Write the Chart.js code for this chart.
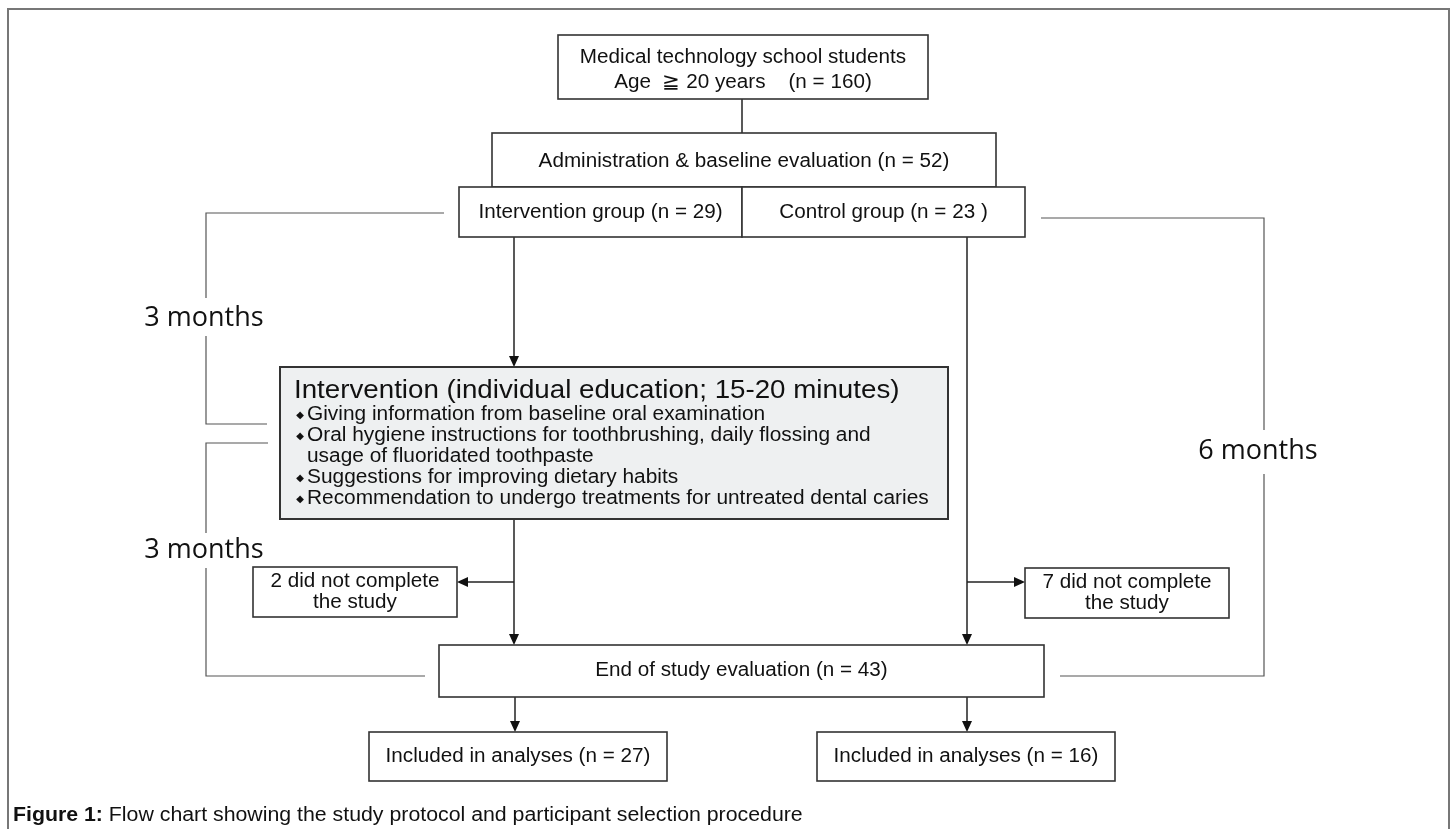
<!DOCTYPE html>
<html>
<head>
<meta charset="utf-8">
<script src="https://cdn.jsdelivr.net/npm/chart.js@4.4.0/dist/chart.umd.min.js"></script>
<style>
  html, body { margin: 0; padding: 0; background: #fff; }
  #flow { display: block; }
</style>
</head>
<body>
<canvas id="flow" width="1453" height="829"></canvas>
<script>
// study numbers
const stageLabels = [
    'Medical technology school students',
    'Administration & baseline evaluation',
    'Intervention group',
    'Control group',
    'did not complete',
    'End of study evaluation',
    'Included in analyses'
];
const nTotal = 160;
const nBaseline = 52;
const nIntervention = 29;
const nControl = 23;
const nDropIntervention = 2;
const nDropControl = 7;
const nEnd = 43;
const nAnalysedIntervention = 27;
const nAnalysedControl = 16;
const durations = ['3 months', '3 months', '6 months'];
const interventionTitle = 'Intervention (individual education; 15-20 minutes)';
const interventionItems = [
    ['Giving information from baseline oral examination'],
    ['Oral hygiene instructions for toothbrushing, daily flossing and', 'usage of fluoridated toothpaste'],
    ['Suggestions for improving dietary habits'],
    ['Recommendation to undergo treatments for untreated dental caries']
];
const caption = ['Figure 1:', ' Flow chart showing the study protocol and participant selection procedure'];

// layout in page units (x right, y down)
const boxes = [
    { r: [558, 35, 928, 99], lines: [stageLabels[0], 'Age  \u2267 20 years    (n = ' + nTotal + ')'], ys: [58, 83] },
    { r: [492, 133, 996, 187], lines: [stageLabels[1] + ' (n = ' + nBaseline + ')'], ys: [162] },
    { r: [459, 187, 742, 237], lines: [stageLabels[2] + ' (n = ' + nIntervention + ')'], ys: [213] },
    { r: [742, 187, 1025, 237], lines: [stageLabels[3] + ' (n = ' + nControl + ' )'], ys: [213] },
    { r: [253, 567, 457, 617], lines: [nDropIntervention + ' ' + stageLabels[4], 'the study'], ys: [582, 603] },
    { r: [1025, 568, 1229, 618], lines: [nDropControl + ' ' + stageLabels[4], 'the study'], ys: [583, 604] },
    { r: [439, 645, 1044, 697], lines: [stageLabels[5] + ' (n = ' + nEnd + ')'], ys: [671] },
    { r: [369, 732, 667, 781], lines: [stageLabels[6] + ' (n = ' + nAnalysedIntervention + ')'], ys: [757] },
    { r: [817, 732, 1115, 781], lines: [stageLabels[6] + ' (n = ' + nAnalysedControl + ')'], ys: [757] }
];
const interventionBox = [280, 367, 948, 519];
const plainLinks = [[[742, 99], [742, 133]]];
const arrows = [
    [[514, 237], [514, 367]],
    [[514, 519], [514, 645]],
    [[514, 582], [457, 582]],
    [[967, 237], [967, 645]],
    [[967, 582], [1025, 582]],
    [[515, 697], [515, 732]],
    [[967, 697], [967, 732]]
];
const brackets = [
    { parts: [[[444, 213], [206, 213], [206, 298]], [[206, 336], [206, 424], [267, 424]]], label: [204, 318] },
    { parts: [[[268, 443], [206, 443], [206, 533]], [[206, 568], [206, 676], [425, 676]]], label: [204, 550] },
    { parts: [[[1041, 218], [1264, 218], [1264, 430]], [[1264, 474], [1264, 676], [1060, 676]]], label: [1258, 451] }
];

const SANS = '"Liberation Sans", Arial, sans-serif';

// text drawn a little wider than plain Arial, like the original figure
function wideText(ctx, text, x, y, font, stretch, align) {
    ctx.save();
    ctx.font = font;
    ctx.textAlign = 'left';
    const w = ctx.measureText(text).width * stretch;
    let left = x;
    if (align === 'center') left = x - w / 2;
    ctx.translate(left, y);
    ctx.scale(stretch, 1);
    ctx.fillText(text, 0, 0);
    ctx.restore();
    return w;
}

const flowPlugin = {
    id: 'flow',
    afterDraw(chart) {
        const ctx = chart.ctx;
        const sx = chart.scales.x, sy = chart.scales.y;
        const px = v => sx.getPixelForValue(v);
        const py = v => sy.getPixelForValue(v);
        const poly = pts => {
            ctx.beginPath();
            pts.forEach((p, i) => i ? ctx.lineTo(px(p[0]), py(p[1])) : ctx.moveTo(px(p[0]), py(p[1])));
            ctx.stroke();
        };
        ctx.save();
        ctx.textBaseline = 'middle';

        // outer frame
        ctx.strokeStyle = '#777';
        ctx.lineWidth = 2;
        ctx.strokeRect(px(8), py(9), px(1449) - px(8), py(840) - py(9));

        // brackets
        ctx.strokeStyle = '#555';
        ctx.lineWidth = 1.2;
        brackets.forEach(b => b.parts.forEach(poly));
        ctx.fillStyle = '#111';
        ctx.font = '27px "Open Sans"';
        ctx.textAlign = 'center';
        brackets.forEach((b, i) => ctx.fillText(durations[i], px(b.label[0]), py(b.label[1])));

        // connectors
        ctx.strokeStyle = '#222';
        ctx.lineWidth = 1.5;
        plainLinks.forEach(poly);
        arrows.forEach(a => {
            const [p0, p1] = a;
            const x0 = px(p0[0]), y0 = py(p0[1]), x1 = px(p1[0]), y1 = py(p1[1]);
            const ang = Math.atan2(y1 - y0, x1 - x0);
            const len = 11, half = 5;
            ctx.beginPath();
            ctx.moveTo(x0, y0);
            ctx.lineTo(x1 - Math.cos(ang) * len, y1 - Math.sin(ang) * len);
            ctx.stroke();
            ctx.fillStyle = '#111';
            ctx.beginPath();
            ctx.moveTo(x1, y1);
            ctx.lineTo(x1 - Math.cos(ang) * len - Math.sin(ang) * half, y1 - Math.sin(ang) * len + Math.cos(ang) * half);
            ctx.lineTo(x1 - Math.cos(ang) * len + Math.sin(ang) * half, y1 - Math.sin(ang) * len - Math.cos(ang) * half);
            ctx.closePath();
            ctx.fill();
        });

        // intervention box
        const ib = interventionBox;
        ctx.fillStyle = '#eef0f1';
        ctx.fillRect(px(ib[0]), py(ib[1]), px(ib[2]) - px(ib[0]), py(ib[3]) - py(ib[1]));
        ctx.strokeStyle = '#333';
        ctx.lineWidth = 2;
        ctx.strokeRect(px(ib[0]), py(ib[1]), px(ib[2]) - px(ib[0]), py(ib[3]) - py(ib[1]));
        ctx.fillStyle = '#111';
        wideText(ctx, interventionTitle, px(294), py(391), '26px ' + SANS, 1.066, 'left');
        let y = 415;
        interventionItems.forEach(item => {
            item.forEach((line, j) => {
                if (j === 0) {
                    ctx.font = '10px "DejaVu Sans", sans-serif';
                    ctx.textAlign = 'center';
                    ctx.fillText('\u25C6', px(300), py(y));
                }
                wideText(ctx, line, px(307), py(y), '19.5px ' + SANS, 1.07, 'left');
                y += 21;
            });
        });

        // plain boxes
        boxes.forEach(b => {
            const r = b.r;
            ctx.fillStyle = '#fff';
            ctx.fillRect(px(r[0]), py(r[1]), px(r[2]) - px(r[0]), py(r[3]) - py(r[1]));
            ctx.strokeStyle = '#333';
            ctx.lineWidth = 1.6;
            ctx.strokeRect(px(r[0]), py(r[1]), px(r[2]) - px(r[0]), py(r[3]) - py(r[1]));
            ctx.fillStyle = '#111';
            b.lines.forEach((t, i) => wideText(ctx, t, px((r[0] + r[2]) / 2), py(b.ys[i]), '19.5px ' + SANS, 1.06, 'center'));
        });

        // caption
        const w = wideText(ctx, caption[0], px(13), py(815), 'bold 20px ' + SANS, 1.065, 'left');
        wideText(ctx, caption[1], px(13) + w, py(815), '20px ' + SANS, 1.065, 'left');
        ctx.restore();
    }
};

new Chart(document.getElementById('flow').getContext('2d'), {
    type: 'scatter',
    data: { datasets: [{ data: [], pointRadius: 0 }] },
    options: {
        responsive: false,
        animation: false,
        devicePixelRatio: 1,
        layout: { padding: 0 },
        plugins: { legend: { display: false }, tooltip: { enabled: false } },
        scales: {
            x: { type: 'linear', min: 0, max: 1453, display: false },
            y: { type: 'linear', min: 0, max: 829, reverse: true, display: false }
        }
    },
    plugins: [flowPlugin]
});
</script>
</body>
</html>
